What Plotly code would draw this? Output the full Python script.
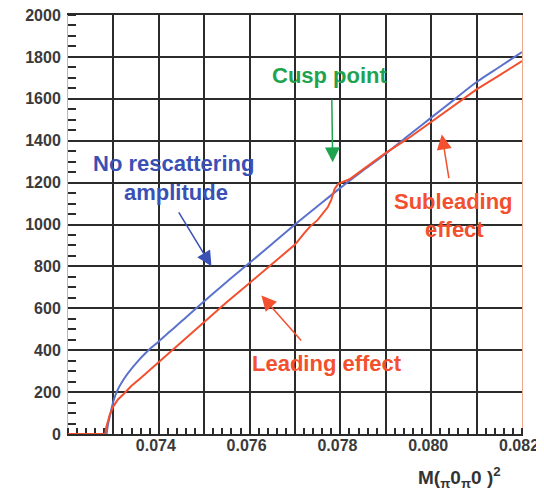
import plotly.graph_objects as go

# ---- data ----
blue_x = [0.07285, 0.07288, 0.07292, 0.0730, 0.07307, 0.07322, 0.07344, 0.07377, 0.0740,
          0.07425, 0.0745, 0.0750, 0.0755, 0.0760, 0.0765, 0.0770, 0.0775, 0.0780,
          0.0785, 0.0790, 0.0795, 0.0800, 0.0805, 0.0810, 0.0815, 0.0820]
blue_y = [0, 45, 84, 156, 200, 259, 323, 400, 442,
          490, 538, 634, 727, 817, 908, 1000, 1088, 1175,
          1258, 1338, 1425, 1510, 1595, 1680, 1752, 1823]

red_x = [0.0720, 0.07282, 0.07284, 0.07287, 0.07292, 0.0730, 0.0731, 0.07322, 0.0734,
         0.07359, 0.0738, 0.0740, 0.07421, 0.0745, 0.0750, 0.0755, 0.0760, 0.0765,
         0.0770, 0.0772, 0.07733, 0.0775, 0.07762, 0.07772, 0.0778, 0.07787, 0.07795,
         0.0781, 0.0782, 0.0785, 0.0790, 0.0795, 0.0800, 0.0805, 0.0810, 0.0815, 0.0820]
red_y = [0, 0, 30, 58, 92, 132, 165, 190, 230,
         265, 305, 344, 385, 440, 538, 630, 721, 812,
         904, 958, 990, 1022, 1052, 1082, 1119, 1168, 1194,
         1207, 1216, 1263, 1342, 1412, 1489, 1567, 1645, 1712, 1780]

x_grid_vals = [0.073, 0.074, 0.075, 0.076, 0.077, 0.078, 0.079, 0.080, 0.081]
x_label_vals = [0.074, 0.076, 0.078, 0.080, 0.082]
x_label_text = ["0.074", "0.076", "0.078", "0.080", "0.082"]
y_tick_vals = [0, 200, 400, 600, 800, 1000, 1200, 1400, 1600, 1800, 2000]
y_tick_text = ["0", "200", "400", "600", "800", "1000", "1200", "1400", "1600", "1800", "2000"]

BLUE = "#5b72cc"
BLUE_TXT = "#3b50b4"
RED = "#f2502e"
GREEN = "#1fa34f"
GRID = "#2b2b2b"
TICKFONT = dict(family="Liberation Sans, Arial, sans-serif", size=16, color="#3a3a3a", weight="bold")
ANNFONT = "Liberation Sans, Arial, sans-serif"

fig = go.Figure()
fig.add_trace(go.Scatter(x=blue_x, y=blue_y, mode="lines", line=dict(color=BLUE, width=2),
                         line_shape="spline", showlegend=False))
fig.add_trace(go.Scatter(x=red_x, y=red_y, mode="lines", line=dict(color=RED, width=2),
                         showlegend=False, xaxis="x2"))

def text_ann(x, y, text, color, size=22):
    fig.add_annotation(x=x, y=y, xref="x", yref="y", text=text, showarrow=False,
                       font=dict(family=ANNFONT, size=size, color=color, weight="bold"),
                       xanchor="center", yanchor="middle")

def arrow_ann(x, y, ax, ay, color):
    fig.add_annotation(x=x, y=y, ax=ax, ay=ay, xref="x", yref="y", axref="x", ayref="y",
                       text="\u00a0", font=dict(size=2), showarrow=True, arrowhead=2,
                       arrowsize=2.0, arrowwidth=1.5, arrowcolor=color,
                       standoff=0, startstandoff=0)

text_ann(0.07776, 1712, "Cusp point", GREEN)
arrow_ann(0.07783, 1297, 0.07781, 1611, GREEN)

text_ann(0.07433, 1291, "No rescattering", BLUE_TXT)
text_ann(0.07438, 1153, "amplitude", BLUE_TXT)
arrow_ann(0.07516, 801, 0.0744, 1072, BLUE_TXT)

text_ann(0.07770, 336, "Leading effect", RED)
arrow_ann(0.07626, 661, 0.07718, 435, RED)

text_ann(0.08049, 1110, "Subleading", RED)
text_ann(0.08052, 977, "effect", RED)
arrow_ann(0.080235, 1430, 0.0804, 1207, RED)

fig.add_annotation(x=0.863, y=-0.104, xref="paper", yref="paper",
                   text="M(<sub>π</sub>0<sub>π</sub>0 )<sup>2</sup>", showarrow=False,
                   font=dict(family=ANNFONT, size=19, color="#333333", weight="bold"),
                   xanchor="center", yanchor="middle")

fig.update_layout(
    xaxis=dict(range=[0.072, 0.082], tickmode="array", tickvals=x_grid_vals,
               showticklabels=False, showgrid=True, gridcolor=GRID, gridwidth=2,
               zeroline=False, ticks="", showline=True, linecolor=GRID, linewidth=2,
               mirror=True, layer="below traces", automargin=False,
               minor=dict(tickmode="linear", tick0=0.072, dtick=0.0002, ticks="inside",
                          ticklen=6, tickwidth=1.5, tickcolor=GRID, showgrid=False)),
    xaxis2=dict(range=[0.072, 0.082], overlaying="x", anchor="y", side="bottom",
                tickmode="array", tickvals=x_label_vals, ticktext=x_label_text,
                showgrid=False, zeroline=False, ticks="", showline=False,
                tickfont=TICKFONT, automargin=False, ticklabeloverflow="allow",
                ticklabelshift=-3),
    yaxis=dict(range=[0, 2000], tickmode="array", tickvals=y_tick_vals, ticktext=y_tick_text,
               showgrid=True, gridcolor=GRID, gridwidth=2, zeroline=False,
               ticks="", tickfont=TICKFONT, showline=True, linecolor="#f0a88c", linewidth=1,
               mirror=True, layer="below traces", ticklabelstandoff=3, automargin=False,
               ticklabeloverflow="allow",
               minor=dict(tickmode="linear", tick0=0, dtick=50, ticks="inside",
                          ticklen=8, tickwidth=1.5, tickcolor=GRID, showgrid=False)),
    width=536, height=482, margin=dict(l=60, r=22, t=7, b=56),
    plot_bgcolor="white", paper_bgcolor="white",
)

fig.write_html("out.html")
